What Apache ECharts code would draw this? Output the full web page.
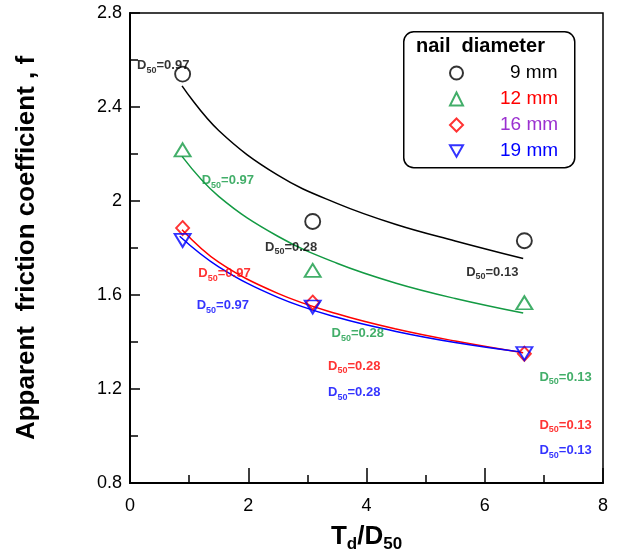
<!DOCTYPE html>
<html><head><meta charset="utf-8">
<script src="https://cdn.jsdelivr.net/npm/echarts@6/dist/echarts.min.js"></script>
<style>html,body{margin:0;padding:0;background:#fff}#c{width:624px;height:554px}</style>
</head><body><div id="c"></div>
<script>
// ---- data ----
const seriesNames = ['9 mm', '12 mm', '16 mm', '19 mm'];
const ratio = [0.89, 3.09, 6.67];            // Td/D50
const f9  = [2.54, 1.913, 1.831];
const f12 = [2.218, 1.705, 1.567];
const f16 = [1.885, 1.568, 1.35];
const f19 = [1.832, 1.549, 1.351];
// fitted curves
const fitX   = [0.88, 1.5, 2.5, 3.5, 4.5, 5.5, 6.65];
const fitX19 = [0.84, 1.5, 2.5, 3.5, 4.5, 5.5, 6.6];
const fit9  = [2.49, 2.30, 2.11, 1.99, 1.90, 1.83, 1.755];
const fit12 = [2.19, 2.02, 1.85, 1.735, 1.65, 1.585, 1.523];
const fit16 = [1.878, 1.74, 1.607, 1.52, 1.455, 1.404, 1.354];
const fit19 = [1.85, 1.72, 1.59, 1.505, 1.445, 1.398, 1.358];
// D50 annotations
const d50Values = ['0.97', '0.28', '0.13'];
const anno9  = [[0.12, 2.576], [2.284, 1.803], [5.685, 1.697]];
const anno12 = [[1.213, 2.086], [3.41, 1.435], [6.925, 1.25]];
const anno16 = [[1.156, 1.691], [3.35, 1.296], [6.925, 1.045]];
const anno19 = [[1.128, 1.554], [3.35, 1.185], [6.925, 0.937]];
const xTicks = [0, 2, 4, 6, 8];
const yTicks = [0.8, 1.2, 1.6, 2, 2.4, 2.8];

// ---- style ----
const FONT = 'Liberation Sans, Arial, sans-serif';
const colors = ['#000000', '#139a43', '#ff0000', '#0000ff'];
const legendTextColors = ['#000000', '#ff0000', '#9b30d0', '#0000ff'];
const symbols = ['circle', 'triangle', 'diamond', 'path://M0,0 L10,0 L5,8.66 Z'];
const symbolSizes = [15, [16, 13], [13, 14], [16, 13]];
const values = [f9, f12, f16, f19];
const fits = [fit9, fit12, fit16, fit19];
const fitXs = [fitX, fitX, fitX, fitX19];
const annos = [anno9, anno12, anno16, anno19];

const series = [];
for (let i = 0; i < 4; i++) {
  series.push({
    name: 'fit ' + seriesNames[i], type: 'line', smooth: 0.4,
    showSymbol: false, silent: true, z: 2,
    lineStyle: { color: colors[i], width: 1.5 },
    data: fitXs[i].map((x, k) => [x, fits[i][k]])
  });
}
for (let i = 0; i < 4; i++) {
  series.push({
    name: seriesNames[i], type: 'scatter', z: 5,
    symbol: symbols[i], symbolSize: symbolSizes[i],
    itemStyle: { color: 'rgba(255,255,255,0)', borderColor: colors[i], borderWidth: 1.9 },
    data: ratio.map((x, k) => [x, values[i][k]])
  });
}
for (let i = 0; i < 4; i++) {
  series.push({
    name: 'anno ' + i, type: 'scatter', symbolSize: 0, silent: true, z: 6,
    data: annos[i].map((p, k) => ({ value: p, d50: d50Values[k] })),
    label: {
      show: true, position: 'right', distance: 0,
      formatter: p => '{m|D}{s|50}{m|=' + d50Values[p.dataIndex] + '}',
      rich: {
        m: { fontSize: 13, fontWeight: 'bold', fontFamily: FONT, color: colors[i], lineHeight: 18 },
        s: { fontSize: 9, fontWeight: 'bold', fontFamily: FONT, color: colors[i], lineHeight: 18, verticalAlign: 'bottom' }
      }
    }
  });
}

const chart = echarts.init(document.getElementById('c'), null, { renderer: 'canvas' });
chart.setOption({
  animation: false,
  backgroundColor: '#fff',
  grid: { left: 130, right: 21, top: 13, bottom: 71, containLabel: false, outerBoundsMode: 'none',
    show: true, borderColor: '#000', borderWidth: 1.5 },
  xAxis: {
    type: 'value', min: xTicks[0], max: xTicks[xTicks.length - 1], interval: 2,
    axisLine: { onZero: false, lineStyle: { color: '#000', width: 2 } },
    axisTick: { inside: true, length: 15, lineStyle: { color: '#000', width: 1.5 } },
    minorTick: { show: true, splitNumber: 2, length: 8, lineStyle: { color: '#000', width: 1.5 } },
    splitLine: { show: false },
    axisLabel: { color: '#000', fontSize: 18, fontFamily: FONT, margin: 14 },
    name: '{t|T}{s|d}{t|/D}{s|50}', nameLocation: 'middle', nameGap: 38,
    nameTextStyle: {
      rich: {
        t: { fontSize: 26, fontWeight: 'bold', fontFamily: FONT, color: '#000', lineHeight: 32 },
        s: { fontSize: 17, fontWeight: 'bold', fontFamily: FONT, color: '#000', lineHeight: 32, verticalAlign: 'bottom' }
      }
    }
  },
  yAxis: {
    type: 'value', min: yTicks[0], max: yTicks[yTicks.length - 1], interval: 0.4,
    axisLine: { show: true, onZero: false, lineStyle: { color: '#000', width: 2 } },
    axisTick: { show: true, inside: true, length: 10, lineStyle: { color: '#000', width: 1.5 } },
    minorTick: { show: true, splitNumber: 2, length: 8, lineStyle: { color: '#000', width: 1.5 } },
    splitLine: { show: false },
    axisLabel: { color: '#000', fontSize: 18, fontFamily: FONT, margin: 8,
      formatter: v => String(Math.round(v * 10) / 10) },
    name: 'Apparent  friction coefficient , f', nameLocation: 'middle', nameRotate: 90, nameGap: 90,
    nameTextStyle: { fontSize: 26, fontWeight: 'bold', fontFamily: FONT, color: '#000' }
  },
  legend: {
    orient: 'vertical', left: 449, top: 63, itemGap: 6, itemWidth: 13, itemHeight: 13, padding: 0,
    textStyle: { fontSize: 19, fontFamily: FONT, lineHeight: 20 },
    data: seriesNames.map((n, i) => ({
      name: n,
      textStyle: { color: legendTextColors[i], padding: [0, 0, 0, i === 0 ? 42 : 32] }
    }))
  },
  graphic: [
    { type: 'rect', left: 403, top: 31, shape: { width: 171, height: 136, r: 10 },
      style: { fill: 'rgba(255,255,255,0)', stroke: '#000', lineWidth: 1.5 }, z: 10 },
    { type: 'text', left: 416, top: 36, z: 11,
      style: { text: 'nail  diameter', font: 'bold 20px ' + FONT, fill: '#000' } }
  ],
  series: series
});
</script>
</body></html>
